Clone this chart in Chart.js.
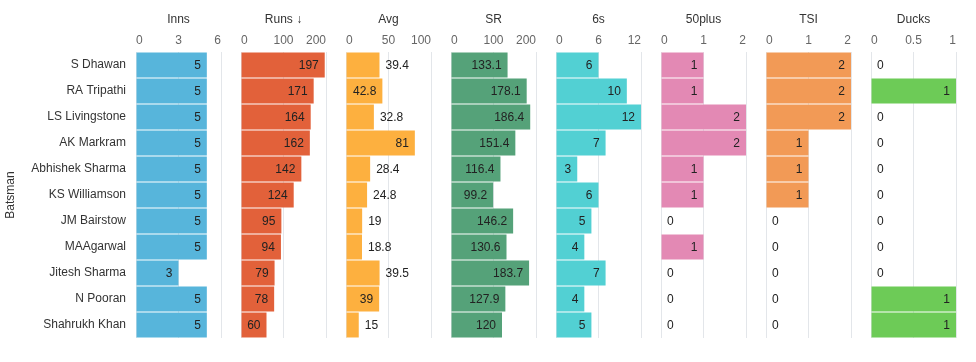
<!DOCTYPE html>
<html>
<head>
<meta charset="utf-8">
<script src="https://cdn.jsdelivr.net/npm/chart.js@4"></script>
<style>
  body { margin: 0; background: #fff; }
  #wrap { position: relative; width: 976px; height: 362px; }
  #wrap canvas { position: absolute; top: 0; }
</style>
</head>
<body>
<div id="wrap"></div>
<script>
const batsmen = ['S Dhawan', 'RA Tripathi', 'LS Livingstone', 'AK Markram', 'Abhishek Sharma', 'KS Williamson',
  'JM Bairstow', 'MAAgarwal', 'Jitesh Sharma', 'N Pooran', 'Shahrukh Khan'];
const inns = [5, 5, 5, 5, 5, 5, 5, 5, 3, 5, 5];
const runs = [197, 171, 164, 162, 142, 124, 95, 94, 79, 78, 60];
const avg = [39.4, 42.8, 32.8, 81, 28.4, 24.8, 19, 18.8, 39.5, 39, 15];
const sr = [133.1, 178.1, 186.4, 151.4, 116.4, 99.2, 146.2, 130.6, 183.7, 127.9, 120];
const sixes = [6, 10, 12, 7, 3, 6, 5, 4, 7, 4, 5];
const fifties = [1, 1, 2, 2, 1, 1, 0, 1, 0, 0, 0];
const tsi = [2, 2, 2, 1, 1, 1, 0, 0, 0, 0, 0];
const ducks = [0, 1, 0, 0, 0, 0, 0, 0, 0, 1, 1];

const titles = ['Inns', 'Runs \u2193', 'Avg', 'SR', '6s', '50plus', 'TSI', 'Ducks'];
const axisMax = [6, 200, 100, 200, 12, 2, 2, 1];
const axisStep = [3, 100, 50, 100, 6, 1, 1, 0.5];
const seriesList = [inns, runs, avg, sr, sixes, fifties, tsi, ducks];
const colors = ['#57b5db', '#e2613a', '#fdb03f', '#55a279', '#52d0d3', '#e389b4', '#f29a56', '#6dcb57'];

const FONT = '"Liberation Sans", Arial, sans-serif';
const gridColor = '#e3e6ea';

// value label: inside the bar end when it fits, else just past it
const valueLabels = {
  id: 'valueLabels',
  afterDatasetsDraw(chart) {
    const ctx = chart.ctx;
    const meta = chart.getDatasetMeta(0);
    const data = chart.data.datasets[0].data;
    const pad = 6;
    ctx.save();
    ctx.font = '12px ' + FONT;
    ctx.fillStyle = '#222';
    ctx.textBaseline = 'middle';
    meta.data.forEach(function (bar, i) {
      const text = String(data[i]);
      const w = ctx.measureText(text).width;
      const barW = bar.x - bar.base;
      if (w + 11.5 <= barW) {
        ctx.textAlign = 'right';
        ctx.fillText(text, bar.x - pad, bar.y + 1);
      } else {
        ctx.textAlign = 'left';
        ctx.fillText(text, bar.x + pad, bar.y + 1);
      }
    });
    ctx.restore();
  }
};

const wrap = document.getElementById('wrap');

seriesList.forEach(function (values, p) {
  const first = p === 0;
  const canvas = document.createElement('canvas');
  const width = first ? 231 : 105;
  canvas.width = width;
  canvas.height = 362;
  canvas.style.left = (first ? 0 : 241 + (p - 1) * 105 - 10) + 'px';
  wrap.appendChild(canvas);

  new Chart(canvas.getContext('2d'), {
    type: 'bar',
    data: {
      labels: batsmen,
      datasets: [{
        data: values,
        backgroundColor: colors[p],
        borderWidth: 0,
        barPercentage: 0.96,
        categoryPercentage: 1
      }]
    },
    options: {
      indexAxis: 'y',
      responsive: false,
      animation: false,
      devicePixelRatio: 1,
      layout: { padding: { top: 0, bottom: 24, left: first ? 0 : 10, right: 10 } },
      plugins: { legend: { display: false }, tooltip: { enabled: false } },
      scales: {
        x: {
          position: 'top',
          min: 0,
          max: axisMax[p],
          afterFit: function (scale) { scale.height = 52; },
          grid: { color: gridColor, drawTicks: false },
          border: { display: false },
          ticks: {
            stepSize: axisStep[p],
            align: 'inner',
            padding: 4,
            color: '#666',
            font: { family: FONT, size: 12 },
            maxRotation: 0,
            callback: function (v) { return String(v); }
          },
          title: {
            display: true,
            text: titles[p],
            color: '#333',
            padding: { top: 12, bottom: 0 },
            font: { family: FONT, size: 12 }
          }
        },
        y: {
          display: first,
          afterFit: function (scale) { if (first) scale.width = 136; },
          grid: { display: false, drawTicks: false },
          border: { display: false },
          ticks: {
            padding: 10,
            color: '#333',
            font: { family: FONT, size: 12 }
          },
          title: {
            display: first,
            text: 'Batsman',
            color: '#333',
            padding: { top: 3, bottom: 0 },
            font: { family: FONT, size: 12 }
          }
        }
      }
    },
    plugins: [valueLabels]
  });
});
</script>
</body>
</html>
